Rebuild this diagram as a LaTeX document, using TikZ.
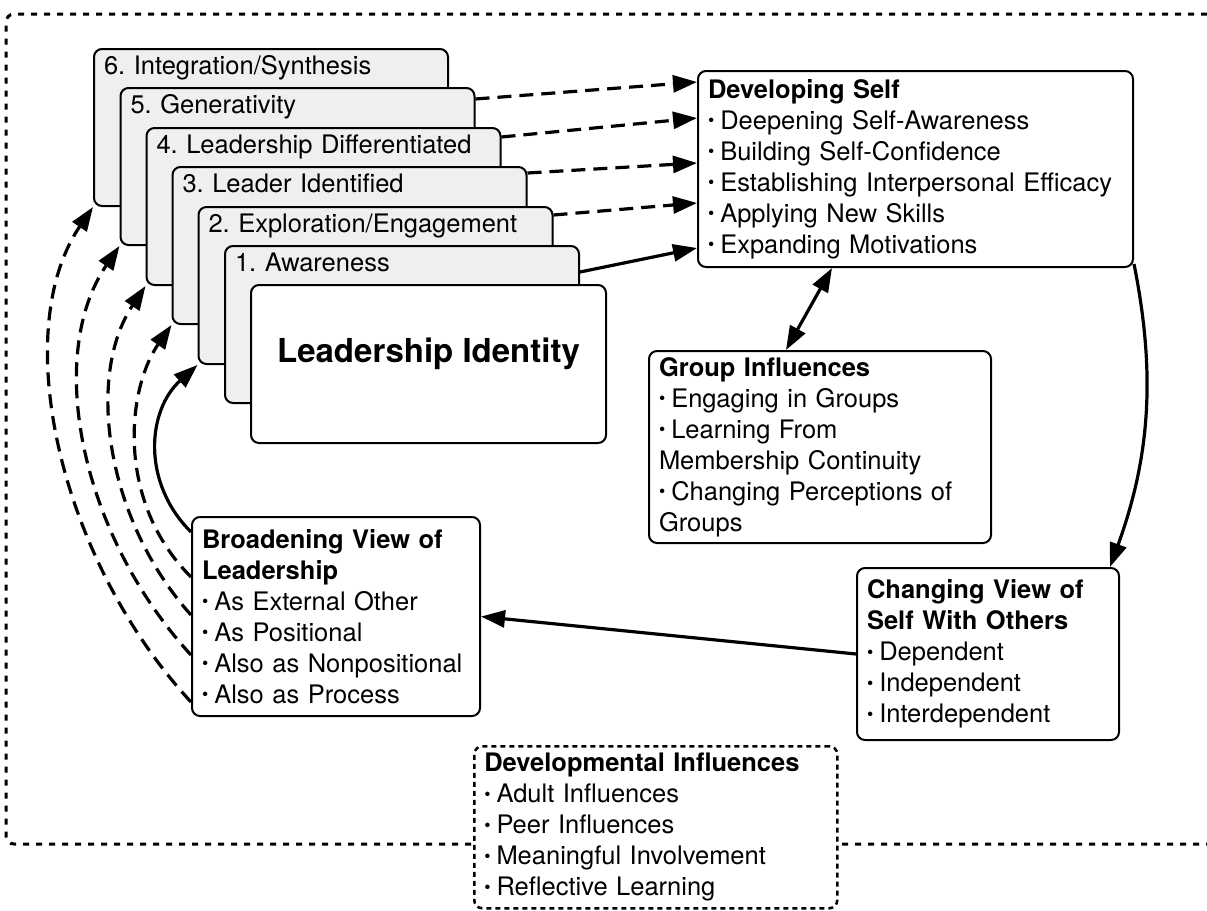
\documentclass[tikz,border=0pt]{standalone}
\usepackage{fontspec}
\setmainfont{TeX Gyre Heros}
\usetikzlibrary{arrows.meta}

\definecolor{cardgray}{RGB}{238,239,238}
\newcommand{\blt}{\raisebox{0.2ex}{\scalebox{0.7}{\textbullet}}\hspace{6pt}}
\frenchspacing

\tikzset{
    card/.style={draw, line width=2pt, rounded corners=8pt, fill=cardgray,
        anchor=north west, text width=334pt, inner xsep=10pt, inner ysep=7pt,
        align=left, text height=18pt, text depth=125pt,
        font=\fontsize{25.5}{31}\selectfont},
    topcard/.style={draw, line width=2pt, rounded corners=8pt, fill=white,
        anchor=north west, minimum width=355pt, minimum height=158pt,
        text height=23pt, text depth=27pt,
        font=\fontsize{33}{38}\selectfont\bfseries},
    infobox/.style={draw, line width=2pt, rounded corners=8pt, fill=white,
        anchor=north west, inner xsep=10pt, align=left,
        font=\fontsize{25.5}{31}\selectfont},
    dotbox/.style={infobox, line width=2.5pt, dash pattern=on 5pt off 4pt},
    border/.style={line width=3pt, dash pattern=on 6pt off 7pt, rounded corners=8pt},
    link/.style={line width=3.2pt, -{Triangle[length=24pt,width=17pt]}},
    dlink/.style={link, dash pattern=on 14pt off 8pt},
}

\begin{document}
\begin{tikzpicture}[x=1pt, y=-1pt]

    \useasboundingbox (0,0) rectangle (1207,910);

    % outer frame, open at the right
    \draw[border] (1207,14) -- (6,14) -- (6,844) -- (1207,844);

    % stack of stages
    \path   (93,48)    node (card6) [card] {6. Integration/Synthesis}
            (119.5,87) node (card5) [card] {5. Generativity}
            (145.5,127) node (card4) [card] {4. Leadership Differentiated}
            (171.5,166) node (card3) [card] {3. Leader Identified}
            (197.5,206) node (card2) [card] {2. Exploration/Engagement}
            (224,245)  node (card1) [card] {1. Awareness}
            (250,284)  node (ident) [topcard] {Leadership Identity};

    % boxes
    \path   (697,70)  node (dev) [infobox, text width=415pt, minimum height=196pt]
                {\textbf{Developing Self}\\
                 \blt Deepening Self-Awareness\\
                 \blt Building Self-Confidence\\
                 \blt Establishing Interpersonal Efficacy\\
                 \blt Applying New Skills\\
                 \blt Expanding Motivations}
            (648,350) node (group) [infobox, text width=322pt, minimum height=192pt]
                {\textbf{Group Influences}\\
                 \blt Engaging in Groups\\
                 \blt Learning From\\
                 Membership Continuity\\
                 \blt Changing Perceptions of\\
                 Groups}
            (856,567) node (change) [infobox, text width=242pt, minimum height=172pt]
                {\textbf{Changing View of}\\
                 \textbf{Self With Others}\\
                 \blt Dependent\\
                 \blt Independent\\
                 \blt Interdependent}
            (191,516) node (broad) [infobox, text width=268pt, minimum height=199pt]
                {\textbf{Broadening View of}\\
                 \textbf{Leadership}\\
                 \blt As External Other\\
                 \blt As Positional\\
                 \blt Also as Nonpositional\\
                 \blt Also as Process}
            (473,745) node (devinf) [dotbox, text width=343pt, minimum height=162pt]
                {\textbf{Developmental Influences}\\
                 \blt Adult Influences\\
                 \blt Peer Influences\\
                 \blt Meaningful Involvement\\
                 \blt Reflective Learning};

    % stages to developing self
    \draw[dlink] ([yshift=-12]card5.north east) -- ([yshift=-12]dev.north west);
    \draw[dlink] ([yshift=-10]card4.north east) -- ([yshift=-48]dev.north west);
    \draw[dlink] ([yshift=-7]card3.north east) -- ([yshift=-93]dev.north west);
    \draw[dlink] ([yshift=-9]card2.north east) -- ([yshift=-133]dev.north west);
    \draw[link]  ([yshift=-27]card1.north east) -- ([yshift=-178]dev.north west);

    % cycle
    \draw[link, {Triangle[length=24pt,width=17pt]}-{Triangle[length=24pt,width=17pt]}]
        ([xshift=135]dev.south west) -- ([xshift=138]group.north west);
    \draw[link] ([yshift=4]dev.south east) .. controls +(22,110) and +(40,-110) .. ([xshift=-10]change.north east);
    \draw[link] (change.west) -- (broad.east);

    % back to the stages
    \draw[link]  ([yshift=-16]broad.north west) .. controls +(-50,-50) and +(-50,45) .. (card2.south west);
    \draw[dlink] ([yshift=-61]broad.north west) .. controls +(-75,-75) and +(-45,65) .. (card3.south west);
    \draw[dlink] ([yshift=-99]broad.north west) .. controls +(-85,-95) and +(-60,90) .. (card4.south west);
    \draw[dlink] ([yshift=-139]broad.north west) .. controls +(-110,-120) and +(-75,110) .. (card5.south west);
    \draw[dlink] ([yshift=-186]broad.north west) .. controls +(-131,-142) and +(-85,125) .. (card6.south west);

\end{tikzpicture}
\end{document}
